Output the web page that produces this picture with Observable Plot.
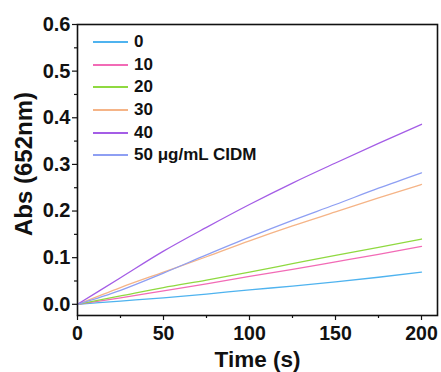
<!DOCTYPE html>
<html><head><meta charset="utf-8">
<script src="https://cdn.jsdelivr.net/npm/d3@7"></script>
<script src="https://cdn.jsdelivr.net/npm/@observablehq/plot@0.6"></script>
<style>
body{margin:0;background:#fff;font-family:"Liberation Sans",Arial,sans-serif;}
#wrap{position:relative;width:441px;height:372px;}
#legend{position:absolute;left:93px;top:31px;font-weight:bold;font-size:17px;color:#111;}
.row{display:flex;align-items:center;height:22.6px;}
.sw{width:35px;height:2px;margin-right:6px;}
</style></head><body>
<div id="wrap"><div id="legend"></div></div>
<script>
const times = [0, 25, 50, 75, 100, 125, 150, 175, 200];
const labels = ["0", "10", "20", "30", "40", "50 \u03bcg/mL CIDM"];
const colors = ["#4fb3ef", "#f26bb6", "#8fd940", "#f5b487", "#a45de6", "#8e9ff3"];
const s0  = [0, 0.007, 0.014, 0.022, 0.031, 0.039, 0.048, 0.058, 0.069];
const s10 = [0, 0.014, 0.029, 0.044, 0.060, 0.075, 0.091, 0.107, 0.124];
const s20 = [0, 0.018, 0.036, 0.052, 0.069, 0.087, 0.105, 0.122, 0.140];
const s30 = [0, 0.036, 0.069, 0.102, 0.136, 0.168, 0.198, 0.228, 0.257];
const s40 = [0, 0.057, 0.114, 0.165, 0.214, 0.260, 0.303, 0.345, 0.386];
const s50 = [0, 0.030, 0.067, 0.106, 0.144, 0.180, 0.214, 0.249, 0.282];
const xTicks = [0, 50, 100, 150, 200];
const xMinor = [25, 75, 125, 175];
const yTicks = [0, 0.1, 0.2, 0.3, 0.4, 0.5, 0.6];
const yMinor = [0.05, 0.15, 0.25, 0.35, 0.45, 0.55];

const series = [s0, s10, s20, s30, s40, s50];
const data = [];
series.forEach((s, i) => s.forEach((v, j) => data.push({t: times[j], v, k: labels[i]})));

const plot = Plot.plot({
  width: 441, height: 372,
  marginLeft: 77, marginRight: 4, marginTop: 24, marginBottom: 57,
  style: {fontFamily: "'Liberation Sans', Arial, sans-serif", fontWeight: "bold", color: "#111", background: "#fff"},
  x: {domain: [0, 209.3]},
  y: {domain: [-0.024, 0.6]},
  color: {domain: labels, range: colors},
  marks: [
    Plot.line(data, {x: "t", y: "v", z: "k", stroke: "k", strokeWidth: 1.3, curve: "monotone-x"}),
    Plot.frame({stroke: "#111", strokeWidth: 1.6}),
    Plot.axisX({ticks: xTicks, tickSize: 5, tickFormat: d => d, fontSize: 19.5, tickPadding: 6, label: null, strokeWidth: 1.2}),
    Plot.axisX({ticks: xMinor, tickSize: 3, text: null, label: null, strokeWidth: 1.2}),
    Plot.axisY({ticks: yTicks, tickSize: 5, tickFormat: d3.format(".1f"), fontSize: 20, tickPadding: 2, label: null, strokeWidth: 1.2}),
    Plot.axisY({ticks: yMinor, tickSize: 3, text: null, label: null, strokeWidth: 1.2}),
    Plot.text(["Time (s)"], {frameAnchor: "bottom", lineAnchor: "middle", textAnchor: "middle", dy: 44, fontSize: 22.5, fontWeight: "bold"}),
    Plot.text(["Abs (652nm)"], {frameAnchor: "left", lineAnchor: "middle", textAnchor: "middle", dx: -53, dy: -6, rotate: -90, fontSize: 24, fontWeight: "bold"})
  ]
});
const wrap = document.getElementById("wrap");
wrap.insertBefore(plot, wrap.firstChild);
const leg = document.getElementById("legend");
labels.forEach((l, i) => {
  const r = document.createElement("div"); r.className = "row";
  const sw = document.createElement("span"); sw.className = "sw"; sw.style.background = colors[i];
  const tx = document.createElement("span"); tx.textContent = l;
  r.appendChild(sw); r.appendChild(tx); leg.appendChild(r);
});
</script></body></html>
